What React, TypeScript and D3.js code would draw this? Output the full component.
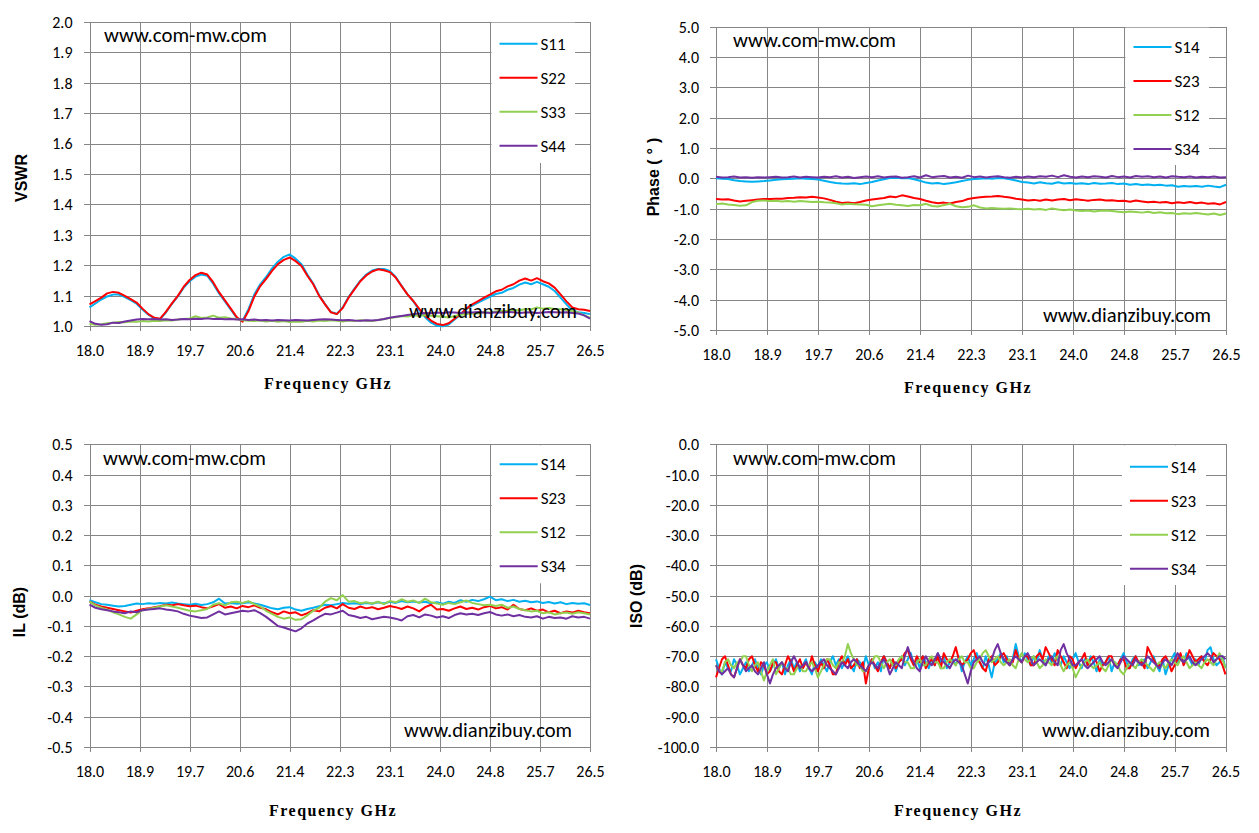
import * as React from "react";
import * as d3 from "d3";

// sample grid, GHz
const freqGHz: number[] = [
  18.0, 18.1, 18.2, 18.3, 18.4, 18.5, 18.6, 18.7, 18.8, 18.9,
  19.0, 19.1, 19.2, 19.3, 19.4, 19.5, 19.6, 19.7, 19.8, 19.9,
  20.0, 20.1, 20.2, 20.3, 20.4, 20.5, 20.6, 20.7, 20.8, 20.9,
  21.0, 21.1, 21.2, 21.3, 21.4, 21.5, 21.6, 21.7, 21.8, 21.9,
  22.0, 22.1, 22.2, 22.3, 22.4, 22.5, 22.6, 22.7, 22.8, 22.9,
  23.0, 23.1, 23.2, 23.3, 23.4, 23.5, 23.6, 23.7, 23.8, 23.9,
  24.0, 24.1, 24.2, 24.3, 24.4, 24.5, 24.6, 24.7, 24.8, 24.9,
  25.0, 25.1, 25.2, 25.3, 25.4, 25.5, 25.6, 25.7, 25.8, 25.9,
  26.0, 26.1, 26.2, 26.3, 26.4, 26.5
];

// finer grid for the isolation sweep
const isoFreqGHz: number[] = [
  18.00, 18.05, 18.10, 18.15, 18.20, 18.25, 18.30, 18.35, 18.40, 18.45, 18.50, 18.55, 18.60, 18.65, 18.70, 18.75, 18.80, 18.85, 18.90, 18.95,
  19.00, 19.05, 19.10, 19.15, 19.20, 19.25, 19.30, 19.35, 19.40, 19.45, 19.50, 19.55, 19.60, 19.65, 19.70, 19.75, 19.80, 19.85, 19.90, 19.95,
  20.00, 20.05, 20.10, 20.15, 20.20, 20.25, 20.30, 20.35, 20.40, 20.45, 20.50, 20.55, 20.60, 20.65, 20.70, 20.75, 20.80, 20.85, 20.90, 20.95,
  21.00, 21.05, 21.10, 21.15, 21.20, 21.25, 21.30, 21.35, 21.40, 21.45, 21.50, 21.55, 21.60, 21.65, 21.70, 21.75, 21.80, 21.85, 21.90, 21.95,
  22.00, 22.05, 22.10, 22.15, 22.20, 22.25, 22.30, 22.35, 22.40, 22.45, 22.50, 22.55, 22.60, 22.65, 22.70, 22.75, 22.80, 22.85, 22.90, 22.95,
  23.00, 23.05, 23.10, 23.15, 23.20, 23.25, 23.30, 23.35, 23.40, 23.45, 23.50, 23.55, 23.60, 23.65, 23.70, 23.75, 23.80, 23.85, 23.90, 23.95,
  24.00, 24.05, 24.10, 24.15, 24.20, 24.25, 24.30, 24.35, 24.40, 24.45, 24.50, 24.55, 24.60, 24.65, 24.70, 24.75, 24.80, 24.85, 24.90, 24.95,
  25.00, 25.05, 25.10, 25.15, 25.20, 25.25, 25.30, 25.35, 25.40, 25.45, 25.50, 25.55, 25.60, 25.65, 25.70, 25.75, 25.80, 25.85, 25.90, 25.95,
  26.00, 26.05, 26.10, 26.15, 26.20, 26.25, 26.30, 26.35, 26.40, 26.45, 26.50
];

const xTickValues: number[] = [18.0, 18.85, 19.7, 20.55, 21.4, 22.25, 23.1, 23.95, 24.8, 25.65, 26.5];
const xTickLabels: string[] = ["18.0", "18.9", "19.7", "20.6", "21.4", "22.3", "23.1", "24.0", "24.8", "25.7", "26.5"];

const vswrTicks: number[] = [1.0, 1.1, 1.2, 1.3, 1.4, 1.5, 1.6, 1.7, 1.8, 1.9, 2.0];
const phaseTicks: number[] = [-5, -4, -3, -2, -1, 0, 1, 2, 3, 4, 5];
const ilTicks: number[] = [-0.5, -0.4, -0.3, -0.2, -0.1, 0.0, 0.1, 0.2, 0.3, 0.4, 0.5];
const isoTicks: number[] = [-100, -90, -80, -70, -60, -50, -40, -30, -20, -10, 0];

const vswrNames: string[] = ["S11", "S22", "S33", "S44"];
const thruNames: string[] = ["S14", "S23", "S12", "S34"];
const seriesColors: string[] = ["#00B0F0", "#FF0000", "#92D050", "#7030A0"];

// ---- VSWR ----
const vswrS11: number[] = [
  1.062, 1.075, 1.088, 1.098, 1.104, 1.104, 1.096, 1.086, 1.074, 1.055,
  1.038, 1.026, 1.024, 1.046, 1.074, 1.098, 1.127, 1.148, 1.163, 1.170,
  1.166, 1.140, 1.108, 1.082, 1.055, 1.028, 1.018, 1.056, 1.105, 1.138,
  1.162, 1.190, 1.212, 1.228, 1.236, 1.222, 1.204, 1.170, 1.140, 1.102,
  1.073, 1.047, 1.041, 1.062, 1.096, 1.124, 1.150, 1.170, 1.183, 1.188,
  1.188, 1.182, 1.162, 1.133, 1.105, 1.082, 1.054, 1.030, 1.012, 1.002,
  1.000, 1.006, 1.022, 1.038, 1.056, 1.068, 1.078, 1.088, 1.097, 1.106,
  1.110, 1.120, 1.126, 1.137, 1.144, 1.138, 1.146, 1.138, 1.130, 1.116,
  1.094, 1.072, 1.052, 1.046, 1.044, 1.040
];
const vswrS22: number[] = [
  1.072, 1.083, 1.094, 1.108, 1.113, 1.110, 1.100, 1.089, 1.078, 1.058,
  1.040, 1.028, 1.025, 1.048, 1.075, 1.100, 1.130, 1.152, 1.168, 1.176,
  1.170, 1.145, 1.112, 1.085, 1.058, 1.030, 1.015, 1.050, 1.098, 1.132,
  1.156, 1.182, 1.204, 1.218, 1.226, 1.214, 1.198, 1.166, 1.138, 1.100,
  1.072, 1.046, 1.040, 1.060, 1.094, 1.121, 1.148, 1.167, 1.180, 1.187,
  1.184, 1.178, 1.160, 1.132, 1.105, 1.083, 1.057, 1.035, 1.019, 1.008,
  1.004, 1.010, 1.025, 1.040, 1.058, 1.072, 1.083, 1.094, 1.104, 1.115,
  1.120, 1.131, 1.138, 1.150, 1.157, 1.150, 1.158, 1.148, 1.141, 1.127,
  1.105, 1.082, 1.062, 1.056, 1.054, 1.050
];
const vswrS33: number[] = [
  1.008, 1.005, 1.007, 1.010, 1.012, 1.014, 1.013, 1.016, 1.015, 1.017,
  1.016, 1.018, 1.017, 1.020, 1.019, 1.022, 1.024, 1.026, 1.033, 1.027,
  1.029, 1.035, 1.028, 1.030, 1.026, 1.024, 1.020, 1.018, 1.017, 1.019,
  1.016, 1.018, 1.015, 1.017, 1.014, 1.016, 1.015, 1.018, 1.016, 1.019,
  1.017, 1.020, 1.018, 1.016, 1.019, 1.017, 1.020, 1.018, 1.017, 1.021,
  1.023, 1.028, 1.030, 1.034, 1.032, 1.036, 1.034, 1.037, 1.035, 1.033,
  1.031, 1.029, 1.034, 1.038, 1.040, 1.043, 1.042, 1.046, 1.045, 1.049,
  1.051, 1.050, 1.054, 1.052, 1.057, 1.055, 1.062, 1.058, 1.060, 1.057,
  1.056, 1.054, 1.050, 1.045, 1.036, 1.028
];
const vswrS44: number[] = [
  1.017, 1.008, 1.005, 1.007, 1.012, 1.011, 1.016, 1.019, 1.022, 1.024,
  1.023, 1.024, 1.022, 1.023, 1.021, 1.022, 1.024, 1.023, 1.025, 1.024,
  1.026, 1.024, 1.025, 1.023, 1.024, 1.022, 1.023, 1.021, 1.022, 1.020,
  1.021, 1.019, 1.021, 1.020, 1.019, 1.021, 1.020, 1.019, 1.021, 1.022,
  1.023, 1.022, 1.021, 1.020, 1.021, 1.019, 1.018, 1.020, 1.019, 1.021,
  1.024, 1.028, 1.031, 1.034, 1.037, 1.040, 1.042, 1.044, 1.043, 1.045,
  1.044, 1.046, 1.045, 1.044, 1.046, 1.045, 1.047, 1.045, 1.044, 1.046,
  1.045, 1.047, 1.046, 1.044, 1.045, 1.046, 1.044, 1.045, 1.047, 1.046,
  1.045, 1.046, 1.044, 1.042, 1.036, 1.025
];

// ---- Phase (deg) ----
const phaseS14: number[] = [
  0.00, -0.01, -0.02, -0.06, -0.09, -0.10, -0.11, -0.10, -0.09, -0.07,
  -0.05, -0.03, -0.02, -0.01, 0.00, -0.01, -0.02, -0.04, -0.08, -0.12,
  -0.15, -0.17, -0.18, -0.16, -0.19, -0.15, -0.12, -0.07, -0.03, 0.01,
  0.02, 0.00, 0.01, -0.03, -0.08, -0.14, -0.17, -0.15, -0.19, -0.16,
  -0.13, -0.09, -0.05, -0.02, -0.01, 0.00, -0.01, 0.01, 0.00, -0.03,
  -0.07, -0.12, -0.14, -0.17, -0.13, -0.16, -0.18, -0.13, -0.17, -0.15,
  -0.18, -0.16, -0.19, -0.15, -0.18, -0.17, -0.15, -0.19, -0.17, -0.21,
  -0.19, -0.22, -0.20, -0.23, -0.21, -0.24, -0.23, -0.28, -0.25, -0.27,
  -0.25, -0.28, -0.24, -0.27, -0.29, -0.21
];
const phaseS23: number[] = [
  -0.68, -0.70, -0.69, -0.73, -0.76, -0.74, -0.72, -0.70, -0.68, -0.68,
  -0.67, -0.67, -0.65, -0.64, -0.62, -0.63, -0.61, -0.63, -0.66, -0.71,
  -0.77, -0.81, -0.80, -0.82, -0.78, -0.73, -0.70, -0.67, -0.65, -0.60,
  -0.62, -0.56, -0.60, -0.65, -0.68, -0.74, -0.79, -0.82, -0.80, -0.83,
  -0.78, -0.75, -0.68, -0.65, -0.62, -0.61, -0.60, -0.58, -0.61, -0.63,
  -0.67, -0.70, -0.73, -0.71, -0.74, -0.70, -0.73, -0.70, -0.68, -0.72,
  -0.69, -0.71, -0.74, -0.71, -0.70, -0.73, -0.72, -0.75, -0.74, -0.77,
  -0.73, -0.76, -0.79, -0.77, -0.80, -0.78, -0.82, -0.79, -0.81, -0.78,
  -0.82, -0.80, -0.84, -0.82, -0.86, -0.78
];
const phaseS12: number[] = [
  -0.85, -0.83, -0.86, -0.88, -0.90, -0.89, -0.78, -0.74, -0.73, -0.75,
  -0.74, -0.76, -0.75, -0.77, -0.75, -0.76, -0.78, -0.77, -0.79, -0.80,
  -0.82, -0.86, -0.84, -0.85, -0.86, -0.87, -0.92, -0.89, -0.86, -0.84,
  -0.87, -0.89, -0.91, -0.88, -0.89, -0.84, -0.91, -0.93, -0.88, -0.84,
  -0.92, -0.95, -0.94, -0.89, -0.96, -0.99, -0.98, -0.99, -1.00, -0.99,
  -1.01, -1.02, -1.00, -1.03, -1.01, -1.04, -0.99, -1.03, -1.05, -1.03,
  -1.06, -1.08, -1.06, -1.09, -1.07, -1.06, -1.08, -1.10, -1.12, -1.09,
  -1.11, -1.13, -1.10, -1.14, -1.12, -1.15, -1.14, -1.18, -1.15, -1.17,
  -1.14, -1.17, -1.19, -1.16, -1.21, -1.16
];
const phaseS34: number[] = [
  0.05, 0.03, 0.04, 0.06, 0.03, 0.04, 0.02, 0.04, 0.03, 0.04,
  0.05, 0.03, 0.04, 0.06, 0.03, 0.05, 0.04, 0.03, 0.05, 0.04,
  0.07, 0.03, 0.05, 0.01, 0.04, 0.06, 0.04, 0.07, 0.03, 0.05,
  0.06, 0.02, 0.04, 0.07, 0.03, 0.10, 0.04, 0.06, 0.08, 0.03,
  0.05, 0.02, 0.09, 0.04, 0.06, 0.03, 0.05, 0.07, 0.04, 0.02,
  0.05, 0.03, 0.06, 0.04, 0.07, 0.05, 0.09, 0.04, 0.10, 0.05,
  0.03, 0.06, 0.04, 0.07, 0.05, 0.03, 0.08, 0.04, 0.06, 0.03,
  0.08, 0.05, 0.07, 0.04, 0.06, 0.03, 0.07, 0.05, 0.04, 0.06,
  0.03, 0.05, 0.04, 0.06, 0.03, 0.04
];

// ---- Insertion loss (dB) ----
const ilS14: number[] = [
  -0.015, -0.022, -0.028, -0.030, -0.033, -0.036, -0.034, -0.030, -0.026, -0.028,
  -0.025, -0.027, -0.024, -0.026, -0.023, -0.026, -0.028, -0.030, -0.027, -0.031,
  -0.028, -0.022, -0.010, -0.026, -0.024, -0.027, -0.025, -0.022, -0.026, -0.030,
  -0.036, -0.042, -0.045, -0.040, -0.038, -0.046, -0.050, -0.044, -0.040, -0.035,
  -0.030, -0.032, -0.028, -0.024, -0.027, -0.025, -0.028, -0.024, -0.027, -0.022,
  -0.026, -0.020, -0.024, -0.018, -0.022, -0.019, -0.023, -0.020, -0.025, -0.022,
  -0.027, -0.020, -0.024, -0.015, -0.020, -0.014, -0.018, -0.012, -0.003, -0.015,
  -0.012, -0.018, -0.014, -0.020, -0.017, -0.022, -0.019, -0.024, -0.021, -0.026,
  -0.022, -0.028, -0.024, -0.027, -0.025, -0.031
];
const ilS23: number[] = [
  -0.020, -0.030, -0.036, -0.040, -0.044, -0.048, -0.052, -0.056, -0.050, -0.045,
  -0.042, -0.038, -0.035, -0.030, -0.032, -0.028, -0.032, -0.035, -0.033, -0.038,
  -0.042, -0.035, -0.028, -0.040, -0.036, -0.042, -0.034, -0.038, -0.032, -0.040,
  -0.045, -0.055, -0.062, -0.052, -0.058, -0.055, -0.065, -0.058, -0.048, -0.052,
  -0.040, -0.034, -0.042, -0.028, -0.040, -0.044, -0.036, -0.042, -0.038, -0.045,
  -0.040, -0.034, -0.038, -0.044, -0.036, -0.042, -0.052, -0.038, -0.030, -0.046,
  -0.044, -0.050, -0.042, -0.036, -0.044, -0.040, -0.046, -0.038, -0.034, -0.042,
  -0.038, -0.046, -0.030, -0.044, -0.048, -0.042, -0.050, -0.046, -0.055, -0.050,
  -0.058, -0.052, -0.056, -0.050, -0.055, -0.058
];
const ilS12: number[] = [
  -0.020, -0.032, -0.040, -0.046, -0.055, -0.062, -0.070, -0.076, -0.062, -0.048,
  -0.044, -0.040, -0.036, -0.032, -0.036, -0.040, -0.045, -0.050, -0.052, -0.048,
  -0.044, -0.030, -0.025, -0.032, -0.022, -0.020, -0.024, -0.018, -0.028, -0.036,
  -0.050, -0.060, -0.070, -0.076, -0.072, -0.080, -0.078, -0.065, -0.050, -0.040,
  -0.020, -0.008, -0.015, 0.002, -0.020, -0.018, -0.025, -0.022, -0.026, -0.020,
  -0.028, -0.018, -0.022, -0.012, -0.020, -0.016, -0.024, -0.010, -0.022, -0.026,
  -0.030, -0.024, -0.028, -0.022, -0.016, -0.024, -0.028, -0.032, -0.030, -0.034,
  -0.030, -0.040, -0.036, -0.044, -0.048, -0.052, -0.050, -0.058, -0.055, -0.062,
  -0.058, -0.056, -0.060, -0.055, -0.058, -0.062
];
const ilS34: number[] = [
  -0.030, -0.040, -0.045, -0.048, -0.052, -0.055, -0.058, -0.052, -0.055, -0.048,
  -0.046, -0.044, -0.042, -0.046, -0.048, -0.052, -0.060, -0.066, -0.070, -0.074,
  -0.072, -0.062, -0.052, -0.062, -0.058, -0.054, -0.050, -0.052, -0.048, -0.058,
  -0.070, -0.085, -0.100, -0.105, -0.112, -0.118, -0.108, -0.092, -0.082, -0.070,
  -0.060, -0.062, -0.056, -0.050, -0.064, -0.068, -0.074, -0.070, -0.078, -0.074,
  -0.070, -0.072, -0.076, -0.082, -0.068, -0.064, -0.072, -0.062, -0.066, -0.072,
  -0.068, -0.074, -0.064, -0.058, -0.062, -0.060, -0.064, -0.058, -0.054, -0.062,
  -0.066, -0.062, -0.068, -0.064, -0.070, -0.072, -0.068, -0.076, -0.070, -0.074,
  -0.072, -0.076, -0.068, -0.072, -0.070, -0.076
];

// ---- Isolation (dB), 0.05 GHz steps ----
const isoS14: number[] = [
  -71, -74, -76, -72, -74, -75, -71, -73, -76, -74, -72, -75, -73, -71, -74, -76, -73, -72, -75, -73,
  -71, -74, -72, -76, -73, -71, -74, -72, -75, -73, -71, -74, -76, -72, -74, -71, -73, -75, -72, -70,
  -73, -71, -74, -72, -70, -73, -75, -71, -72, -74, -70, -73, -71, -74, -72, -75, -70, -72, -74, -71,
  -75, -72, -70, -73, -71, -69, -73, -71, -74, -70, -72, -74, -71, -73, -69, -72, -70, -74, -72, -71,
  -73, -70, -75, -72, -70, -73, -71, -69, -72, -74, -70, -73, -77, -72, -71, -69, -72, -70, -73, -71,
  -66, -70, -72, -69, -71, -73, -70, -72, -68, -71, -73, -70, -72, -69, -71, -73, -70, -72, -74, -71,
  -69, -72, -74, -71, -73, -70, -72, -75, -71, -73, -72, -70, -75, -72, -73, -71, -69, -72, -74, -71,
  -70, -73, -72, -71, -74, -72, -70, -73, -75, -71, -76, -73, -71, -69, -72, -70, -72, -69, -71, -73,
  -71, -73, -70, -72, -68, -67, -71, -73, -72, -70, -74
];
const isoS23: number[] = [
  -77, -74, -71, -70, -73, -76, -77, -74, -71, -73, -74, -71, -70, -73, -75, -72, -73, -76, -75, -72,
  -72, -75, -76, -73, -70, -72, -75, -73, -71, -74, -72, -74, -70, -73, -75, -72, -74, -71, -73, -76,
  -76, -72, -70, -73, -71, -74, -73, -71, -74, -72, -79, -74, -71, -73, -75, -72, -70, -72, -74, -71,
  -74, -72, -71, -69, -68, -71, -73, -70, -72, -70, -74, -72, -71, -73, -70, -74, -69, -71, -72, -70,
  -67, -71, -73, -72, -71, -69, -68, -71, -72, -74, -75, -71, -70, -73, -72, -70, -69, -71, -73, -72,
  -68, -71, -72, -70, -70, -73, -73, -70, -69, -71, -67, -69, -71, -73, -68, -70, -72, -74, -70, -71,
  -74, -72, -71, -69, -73, -71, -70, -72, -75, -73, -72, -70, -70, -73, -73, -71, -71, -74, -74, -72,
  -70, -72, -72, -74, -67, -69, -71, -73, -73, -71, -70, -72, -75, -73, -71, -69, -73, -71, -68, -70,
  -72, -71, -70, -72, -73, -71, -69, -70, -71, -73, -76
];
const isoS12: number[] = [
  -73, -75, -75, -72, -71, -73, -74, -72, -72, -70, -70, -73, -75, -73, -72, -75, -78, -75, -73, -71,
  -76, -74, -72, -74, -74, -76, -76, -74, -73, -75, -75, -73, -72, -74, -77, -75, -73, -71, -71, -73,
  -74, -72, -72, -70, -66, -69, -71, -73, -73, -75, -75, -73, -72, -70, -70, -72, -74, -72, -71, -73,
  -73, -71, -70, -72, -72, -74, -74, -72, -71, -73, -73, -71, -70, -72, -72, -74, -74, -72, -71, -72,
  -73, -71, -70, -72, -72, -74, -74, -72, -71, -69, -68, -70, -72, -71, -70, -72, -73, -72, -71, -73,
  -74, -71, -69, -71, -72, -71, -70, -72, -74, -73, -71, -72, -73, -71, -70, -73, -75, -73, -72, -74,
  -77, -75, -73, -72, -71, -73, -74, -73, -72, -74, -75, -73, -71, -72, -73, -75, -76, -74, -72, -73,
  -74, -72, -71, -72, -73, -74, -75, -73, -72, -73, -74, -72, -71, -72, -73, -71, -70, -72, -74, -73,
  -72, -73, -74, -72, -71, -72, -73, -71, -69, -71, -74
];
const isoS34: number[] = [
  -73, -75, -76, -75, -74, -76, -77, -74, -71, -73, -75, -74, -73, -75, -76, -74, -72, -76, -79, -76,
  -74, -73, -72, -74, -75, -72, -70, -72, -74, -73, -72, -74, -75, -74, -73, -72, -71, -73, -74, -75,
  -76, -74, -72, -73, -74, -72, -71, -72, -73, -74, -75, -73, -72, -73, -74, -72, -71, -73, -76, -74,
  -72, -73, -74, -70, -67, -70, -72, -74, -75, -72, -70, -72, -73, -71, -69, -71, -72, -73, -74, -72,
  -71, -72, -73, -76, -79, -75, -72, -71, -70, -72, -73, -72, -71, -68, -66, -69, -71, -72, -73, -71,
  -70, -71, -72, -70, -69, -71, -73, -72, -71, -72, -73, -71, -70, -72, -73, -68, -66, -69, -71, -73,
  -73, -72, -71, -73, -74, -73, -72, -71, -70, -72, -73, -72, -71, -73, -74, -72, -70, -71, -72, -73,
  -71, -72, -73, -72, -70, -71, -72, -73, -74, -72, -71, -72, -73, -71, -69, -71, -72, -71, -70, -72,
  -73, -72, -71, -70, -69, -70, -72, -71, -70, -70, -71
];

type Box = { left: number; right: number; top: number; bottom: number };

interface PanelProps {
  graphId: string;
  yTitle: string;
  yTicks: number[];
  names: string[];
  freqs: number[];
  series: number[][];
  plot: Box;
  legend: Box;
  legendRowTop: number;
  yTitlePos: [number, number];
  xTitlePos: [number, number];
  siteMark: [number, number];
  shopMark: [number, number];
}

const TICK_FONT = "Carlito, Calibri, Lato, sans-serif";

class SParamPanel extends React.PureComponent<PanelProps> {
  public componentDidMount(): void {
    this.drawChart();
  }

  public componentDidUpdate(): void {
    this.drawChart();
  }

  public render(): JSX.Element {
    return <g id={this.props.graphId}/>;
  }

  private drawChart(): void {
    const p = this.props;
    const g = d3.select<SVGGElement, unknown>("#" + p.graphId);
    g.selectAll("*").remove();

    const plotW: number = p.plot.right - p.plot.left;
    const plotH: number = p.plot.bottom - p.plot.top;
    const x = d3.scaleLinear().domain([18, 26.5]).range([p.plot.left, p.plot.right]);
    const y = d3.scaleLinear()
      .domain([p.yTicks[0], p.yTicks[p.yTicks.length - 1]])
      .range([p.plot.bottom, p.plot.top]);

    // y grid + ticks + labels
    const yAxis = d3.axisLeft(y)
      .tickValues(p.yTicks)
      .tickSizeInner(-plotW)
      .tickSizeOuter(0)
      .tickFormat((d) => (+d).toFixed(1));
    g.append("g")
      .attr("transform", `translate(${p.plot.left},0)`)
      .call(yAxis)
      .call((a) => a.select(".domain").remove())
      .call((a) => a.selectAll(".tick line")
        .attr("x1", -6)
        .attr("stroke", "#868686")
        .attr("shape-rendering", "crispEdges"))
      .call((a) => a.selectAll(".tick text")
        .attr("x", -17)
        .attr("dy", "0.34em")
        .attr("fill", "#000")
        .style("font-family", TICK_FONT)
        .style("font-size", "16px"));

    // x grid + ticks + labels
    const xAxis = d3.axisBottom(x)
      .tickValues(xTickValues)
      .tickSizeInner(-plotH)
      .tickSizeOuter(0)
      .tickFormat((_d, i) => xTickLabels[i]);
    g.append("g")
      .attr("transform", `translate(0,${p.plot.bottom})`)
      .call(xAxis)
      .call((a) => a.select(".domain").remove())
      .call((a) => a.selectAll(".tick line")
        .attr("y1", 5)
        .attr("stroke", "#868686")
        .attr("shape-rendering", "crispEdges"))
      .call((a) => a.selectAll(".tick text")
        .attr("y", 24.5)
        .attr("dy", "0.34em")
        .attr("fill", "#000")
        .style("font-family", TICK_FONT)
        .style("font-size", "16px"));

    // traces, first series at the bottom
    const line = d3.line<number>()
      .x((_d, i) => x(p.freqs[i]))
      .y((d) => y(d));
    p.series.forEach((s: number[], i: number) => {
      g.append("path")
        .datum(s)
        .attr("d", line)
        .attr("fill", "none")
        .attr("stroke", seriesColors[i])
        .attr("stroke-width", 2)
        .attr("stroke-linejoin", "round");
    });

    // legend
    g.append("rect")
      .attr("x", p.legend.left)
      .attr("y", p.legend.top)
      .attr("width", p.legend.right - p.legend.left)
      .attr("height", p.legend.bottom - p.legend.top)
      .attr("fill", "#fff");
    p.names.forEach((name: string, i: number) => {
      const ly: number = p.plot.top + p.legendRowTop + i * 34;
      g.append("line")
        .attr("x1", p.legend.left + 8)
        .attr("x2", p.legend.left + 46)
        .attr("y1", ly)
        .attr("y2", ly)
        .attr("stroke", seriesColors[i])
        .attr("stroke-width", 2);
      g.append("text")
        .attr("x", p.legend.left + 49)
        .attr("y", ly)
        .attr("dy", "0.35em")
        .style("font-family", TICK_FONT)
        .style("font-size", "17px")
        .text(name);
    });

    // axis titles
    const yt = g.append("text")
      .attr("transform", `translate(${p.yTitlePos[0]},${p.yTitlePos[1]}) rotate(-90)`)
      .attr("text-anchor", "middle")
      .attr("dy", "0.35em")
      .style("font-family", "Liberation Sans, Arial, sans-serif")
      .style("font-weight", "bold")
      .style("font-size", "16px");
    if (p.yTitle.indexOf("°") >= 0) {
      yt.append("tspan").text("Phase (");
      yt.append("tspan").attr("dx", 5).text("°");
      yt.append("tspan").attr("dx", 5).text(")");
    } else {
      yt.text(p.yTitle);
    }

    g.append("text")
      .attr("x", p.xTitlePos[0])
      .attr("y", p.xTitlePos[1])
      .attr("text-anchor", "middle")
      .attr("dy", "0.35em")
      .style("font-family", "Liberation Serif, Times New Roman, serif")
      .style("font-weight", "bold")
      .style("font-size", "16px")
      .style("letter-spacing", "1.5px")
      .text("Frequency GHz");

    // watermarks
    g.append("text")
      .attr("x", p.siteMark[0])
      .attr("y", p.siteMark[1])
      .attr("textLength", 163)
      .attr("lengthAdjust", "spacingAndGlyphs")
      .style("font-family", TICK_FONT)
      .style("font-size", "20px")
      .text("www.com-mw.com");
    g.append("text")
      .attr("x", p.shopMark[0])
      .attr("y", p.shopMark[1])
      .attr("textLength", 168)
      .attr("lengthAdjust", "spacingAndGlyphs")
      .style("font-family", TICK_FONT)
      .style("font-size", "20px")
      .text("www.dianzibuy.com");
  }
}

export default function App(): JSX.Element {
  return (
    <svg width={1259} height={833}
         style={{ position: "absolute", left: 0, top: 0, background: "#fff" }}>
      <SParamPanel
        graphId="vswr"
        yTitle="VSWR"
        yTicks={vswrTicks}
        names={vswrNames}
        freqs={freqGHz}
        series={[vswrS11, vswrS22, vswrS33, vswrS44]}
        plot={{ left: 89.5, right: 590, top: 21.7, bottom: 326.3 }}
        legend={{ left: 491.5, right: 575, top: 22.7, bottom: 163 }}
        legendRowTop={22}
        yTitlePos={[21, 178]}
        xTitlePos={[328, 383.5]}
        siteMark={[104, 42]}
        shopMark={[409, 318]}
      />
      <SParamPanel
        graphId="phase"
        yTitle="Phase (°)"
        yTicks={phaseTicks}
        names={thruNames}
        freqs={freqGHz}
        series={[phaseS14, phaseS23, phaseS12, phaseS34]}
        plot={{ left: 716, right: 1226, top: 26.7, bottom: 330 }}
        legend={{ left: 1125.5, right: 1209, top: 27.7, bottom: 165 }}
        legendRowTop={20.3}
        yTitlePos={[653, 177]}
        xTitlePos={[968, 387]}
        siteMark={[733, 46.5]}
        shopMark={[1043, 321.7]}
      />
      <SParamPanel
        graphId="il"
        yTitle="IL (dB)"
        yTicks={ilTicks}
        names={thruNames}
        freqs={freqGHz}
        series={[ilS14, ilS23, ilS12, ilS34]}
        plot={{ left: 89.5, right: 590, top: 444.3, bottom: 747 }}
        legend={{ left: 491.7, right: 575.8, top: 445.3, bottom: 583.3 }}
        legendRowTop={20}
        yTitlePos={[19.5, 612]}
        xTitlePos={[333, 810]}
        siteMark={[103, 464.5]}
        shopMark={[404, 736.7]}
      />
      <SParamPanel
        graphId="iso"
        yTitle="ISO (dB)"
        yTicks={isoTicks}
        names={thruNames}
        freqs={isoFreqGHz}
        series={[isoS14, isoS23, isoS12, isoS34]}
        plot={{ left: 716, right: 1225.5, top: 444.3, bottom: 747 }}
        legend={{ left: 1122, right: 1206, top: 445.3, bottom: 585 }}
        legendRowTop={22.4}
        yTitlePos={[636.5, 596]}
        xTitlePos={[958, 810]}
        siteMark={[733, 464.5]}
        shopMark={[1042, 736.7]}
      />
    </svg>
  );
}
